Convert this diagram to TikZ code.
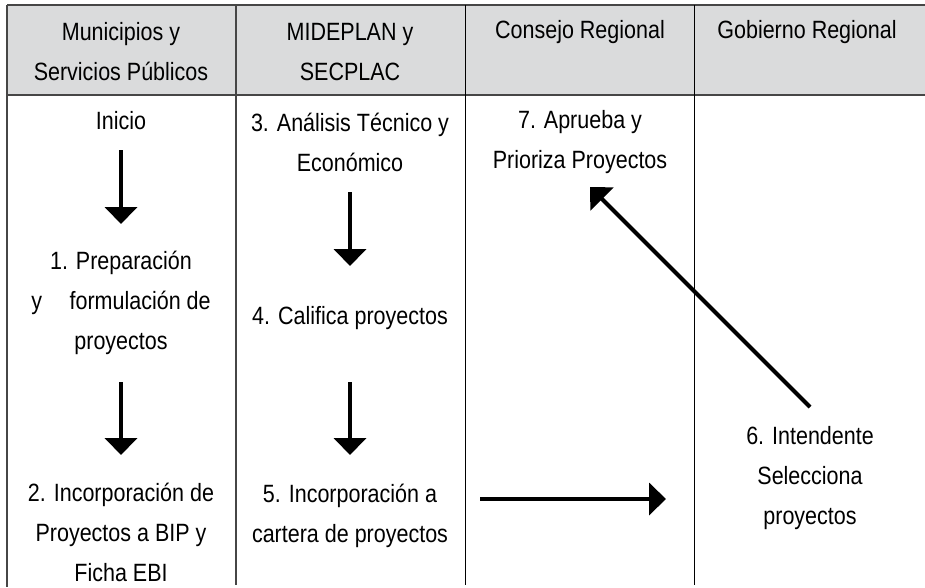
\documentclass[tikz,border=0pt]{standalone}
\usepackage{fontspec}
\setmainfont[FakeStretch=0.86]{Liberation Sans}
\usepackage{tikz}
\usetikzlibrary{calc}
\usetikzlibrary{arrows.meta}
\definecolor{headgray}{RGB}{218,219,220}
\definecolor{rulegray}{RGB}{70,70,70}

\begin{document}
\begin{tikzpicture}[x=1pt,y=-1pt,
    txt/.style={align=center,inner sep=0pt,font=\fontsize{25}{40}\selectfont},
    flow/.style={line width=4pt,-{Triangle[width=32pt,length=17pt]}}]
  \useasboundingbox (0,0) rectangle (925,587);

  \fill [headgray] (7,5) rectangle (925,95);
  \draw [rulegray,line width=1.5pt] (7,5) -- (925,5);
  \draw [rulegray,line width=2pt] (7,95) -- (925,95);
  \draw [rulegray,line width=1.2pt] (7,5) -- (7,587);
  \draw [rulegray,line width=1.2pt] (236,5) -- (236,585);
  \draw [line width=0.9pt] (465,5) -- (465,585);
  \draw [line width=0.9pt] (694,5) -- (694,585);

  \node [txt] (h1) at (121,52) {Municipios y\\Servicios Públicos};
  \node [txt] (h2) at (350,52) {MIDEPLAN y\\SECPLAC};
  \node [txt] (h3) at (580,32) {Consejo Regional};
  \node [txt] (h4) at (807,32) {Gobierno Regional};

  \node [txt] (inicio) at (121,121) {Inicio};
  \node [txt] (s1) at (121,303) {1. Preparación\\y\hspace{1.1em}formulación de\\proyectos};
  \node [txt] (s2) at (121,532) {2. Incorporación de\\Proyectos a BIP y\\Ficha EBI};
  \node [txt] (s3) at (350,142) {3. Análisis Técnico y\\Económico};
  \node [txt] (s4) at (350,318) {4. Califica proyectos};
  \node [txt] (s5) at (350,516) {5. Incorporación a\\cartera de proyectos};
  \node [txt] (s6) at (810,478) {6. Intendente\\Selecciona\\proyectos};
  \node [txt] (s7) at (580,142) {7. Aprueba y\\Prioriza Proyectos};

  \coordinate (a1) at (121,150);
  \coordinate (b1) at (121,224);
  \coordinate (a2) at (121,382);
  \coordinate (b2) at (121,455);
  \coordinate (a3) at (350,192);
  \coordinate (b3) at (350,266);
  \coordinate (a4) at (350,382);
  \coordinate (b4) at (350,455);
  \coordinate (a5) at (480,499);
  \coordinate (b5) at (666,499);
  \coordinate (a6) at (810,407);
  \coordinate (b6) at (590,187);

  \draw [flow] (a1) -- (b1);
  \draw [flow] (a2) -- (b2);
  \draw [flow] (a3) -- (b3);
  \draw [flow] (a4) -- (b4);
  \draw [flow] (a5) -- (b5);
  \draw [flow] (a6) -- (b6);
\end{tikzpicture}
\end{document}
